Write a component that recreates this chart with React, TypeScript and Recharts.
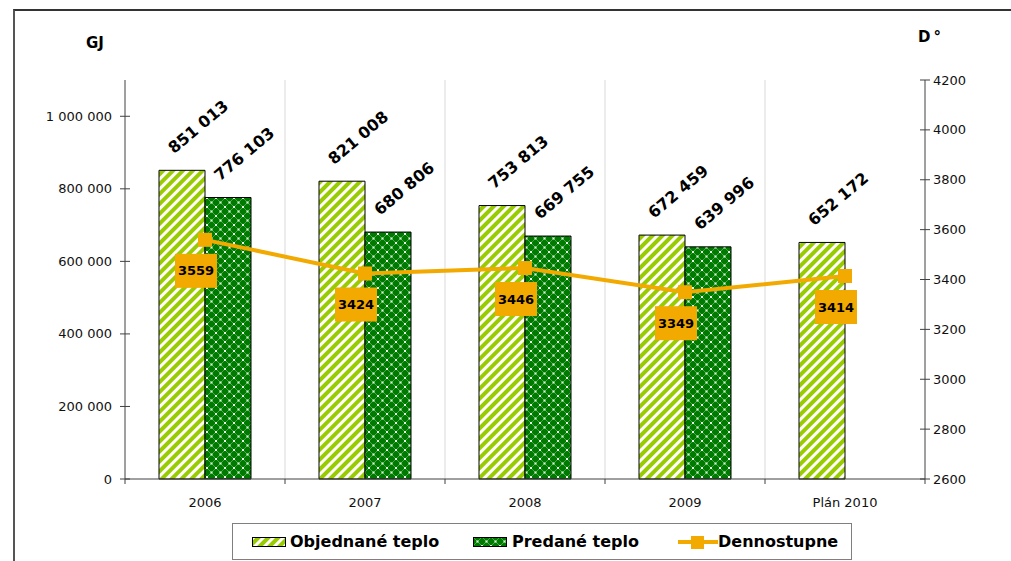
import React from 'react';
import {
  ComposedChart,
  Bar,
  Line,
  XAxis,
  YAxis,
  CartesianGrid,
  LabelList,
} from 'recharts';

const categories = ['2006', '2007', '2008', '2009', 'Plán 2010'];
const objednaneTeplo = [851013, 821008, 753813, 672459, 652172];
const predaneTeplo: (number | null)[] = [776103, 680806, 669755, 639996, null];
const dennostupne = [3559, 3424, 3446, 3349, 3414];
const leftTicks = [0, 200000, 400000, 600000, 800000, 1000000];
const rightTicks = [2600, 2800, 3000, 3200, 3400, 3600, 3800, 4000, 4200];

const data = categories.map((c, i) => ({
  name: c,
  objednane: objednaneTeplo[i],
  predane: predaneTeplo[i],
  dennostupne: dennostupne[i],
}));

const CHART_W = 1011;
const CHART_H = 561;
const LEFT_W = 125;
const RIGHT_W = 86;
const XAXIS_H = 82;
const TOP = 80;
const BAND = (CHART_W - LEFT_W - RIGHT_W) / categories.length;

const FONT = '"DejaVu Sans", Verdana, sans-serif';
const AXIS = '#404040';
const ORANGE = '#F2A900';
const LIME = '#99CC00';
const DKGREEN = '#007A00';

const fmt = (n: number) => String(n).replace(/\B(?=(\d{3})+(?!\d))/g, ' ');

const LeftTick = (props: any) => {
  const { x, y, payload } = props;
  const ax = x + 5 + 8;
  return (
    <g>
      <line x1={ax - 5} x2={ax + 5} y1={y} y2={y} stroke={AXIS} strokeWidth={1} />
      <text x={x} y={y} textAnchor="end" dominantBaseline="central" fontFamily={FONT} fontSize={13} fill="#111">
        {fmt(payload.value)}
      </text>
    </g>
  );
};

const RightTick = (props: any) => {
  const { x, y, payload } = props;
  const ax = x - 5 - 3;
  return (
    <g>
      <line x1={ax - 5} x2={ax + 5} y1={y} y2={y} stroke={AXIS} strokeWidth={1} />
      <text x={x} y={y} textAnchor="start" dominantBaseline="central" fontFamily={FONT} fontSize={13} fill="#111">
        {payload.value}
      </text>
    </g>
  );
};

const BottomTick = (props: any) => {
  const { x, y, payload, index } = props;
  const ay = y - 5 - 12;
  return (
    <g>
      <line x1={x - BAND / 2} x2={x - BAND / 2} y1={ay} y2={ay + 5} stroke={AXIS} strokeWidth={1} />
      {index === categories.length - 1 && (
        <line x1={x + BAND / 2} x2={x + BAND / 2} y1={ay} y2={ay + 5} stroke={AXIS} strokeWidth={1} />
      )}
      <text x={x} y={y + 11} textAnchor="middle" fontFamily={FONT} fontSize={13} fill="#111">
        {payload.value}
      </text>
    </g>
  );
};

const BarValueLabel = (props: any) => {
  const { x, y, value } = props;
  if (value === null || value === undefined) return null;
  const tx = Number(x) + 15;
  const ty = Number(y) - 16;
  return (
    <text
      x={tx}
      y={ty}
      transform={`rotate(-40 ${tx} ${ty})`}
      textAnchor="start"
      fontFamily={FONT}
      fontWeight="bold"
      fontSize={16}
      fill="#000"
    >
      {fmt(Number(value))}
    </text>
  );
};

const SquareDot = (props: any) => {
  const { cx, cy } = props;
  if (cx == null || cy == null) return null;
  return <rect x={cx - 7} y={cy - 7} width={14} height={14} fill={ORANGE} />;
};

const LineValueLabel = (props: any) => {
  const { x, y, value } = props;
  const cx = Number(x) - 9;
  const cy = Number(y) + 31;
  return (
    <g>
      <rect x={cx - 21} y={cy - 17} width={42} height={34} fill={ORANGE} />
      <text x={cx} y={cy} textAnchor="middle" dominantBaseline="central" fontFamily={FONT} fontWeight="bold" fontSize={13} fill="#000">
        {value}
      </text>
    </g>
  );
};

const Patterns = ({ prefix }: { prefix: string }) => (
  <defs>
    <pattern id={`${prefix}Obj`} width={7} height={7} patternUnits="userSpaceOnUse" patternTransform="rotate(45)">
      <rect x={0} y={0} width={7} height={7} fill={LIME} />
      <rect x={0} y={0} width={3} height={7} fill="#ffffff" />
    </pattern>
    <pattern id={`${prefix}Pre`} width={9} height={9} patternUnits="userSpaceOnUse">
      <rect x={0} y={0} width={9} height={9} fill={DKGREEN} />
      <line x1={0} y1={0} x2={9} y2={9} stroke="#4fae4f" strokeWidth={0.9} />
      <line x1={9} y1={0} x2={0} y2={9} stroke="#4fae4f" strokeWidth={0.9} />
      <rect x={3.5} y={3.5} width={2} height={2} fill="#e8ffe8" />
      <rect x={0} y={0} width={1} height={1} fill="#e8ffe8" />
      <rect x={8} y={8} width={1} height={1} fill="#e8ffe8" />
      <rect x={8} y={0} width={1} height={1} fill="#e8ffe8" />
      <rect x={0} y={8} width={1} height={1} fill="#e8ffe8" />
    </pattern>
  </defs>
);

const legendText: React.CSSProperties = {
  position: 'absolute',
  fontFamily: FONT,
  fontWeight: 'bold',
  fontSize: 16,
  color: '#000',
  top: 8,
  lineHeight: '19px',
  whiteSpace: 'nowrap',
};

export default function App() {
  return (
    <div style={{ position: 'absolute', left: 0, top: 0, width: CHART_W, height: CHART_H, background: '#fff', overflow: 'hidden' }}>
      <div
        style={{
          position: 'absolute',
          left: 13,
          top: 9,
          width: CHART_W,
          height: CHART_H,
          borderLeft: '2px solid #555',
          borderTop: '2px solid #333',
        }}
      />
      <div style={{ position: 'absolute', left: 0, top: 0 }}>
        <ComposedChart
          width={CHART_W}
          height={CHART_H}
          data={data}
          margin={{ top: TOP, right: 0, bottom: 0, left: 0 }}
          barGap={0}
        >
          <Patterns prefix="c" />
          <CartesianGrid
            horizontal={false}
            vertical={true}
            stroke="#d9d9d9"
            strokeWidth={1}
            verticalCoordinatesGenerator={({ offset }: any) =>
              categories.slice(1).map((_, i) => offset.left + (offset.width * (i + 1)) / categories.length)
            }
          />
          <XAxis
            dataKey="name"
            height={XAXIS_H}
            axisLine={{ stroke: AXIS, strokeWidth: 1 }}
            tickLine={false}
            tickSize={5}
            tickMargin={12}
            tick={<BottomTick />}
            interval={0}
          />
          <YAxis
            yAxisId="left"
            orientation="left"
            width={LEFT_W}
            domain={[0, 1100000]}
            ticks={leftTicks}
            axisLine={{ stroke: AXIS, strokeWidth: 1 }}
            tickLine={false}
            tickSize={5}
            tickMargin={8}
            tick={<LeftTick />}
            interval={0}
          />
          <YAxis
            yAxisId="right"
            orientation="right"
            width={RIGHT_W}
            domain={[2600, 4200]}
            ticks={rightTicks}
            axisLine={{ stroke: AXIS, strokeWidth: 1 }}
            tickLine={false}
            tickSize={5}
            tickMargin={3}
            tick={<RightTick />}
            interval={0}
          />
          <Bar
            yAxisId="left"
            dataKey="objednane"
            name="Objednané teplo"
            barSize={46}
            fill="url(#cObj)"
            stroke="#000"
            strokeWidth={1}
            isAnimationActive={false}
          >
            <LabelList dataKey="objednane" content={<BarValueLabel />} />
          </Bar>
          <Bar
            yAxisId="left"
            dataKey="predane"
            name="Predané teplo"
            barSize={46}
            fill="url(#cPre)"
            stroke="#000"
            strokeWidth={1}
            isAnimationActive={false}
          >
            <LabelList dataKey="predane" content={<BarValueLabel />} />
          </Bar>
          <Line
            yAxisId="right"
            type="linear"
            dataKey="dennostupne"
            name="Dennostupne"
            stroke={ORANGE}
            strokeWidth={4}
            dot={<SquareDot />}
            activeDot={false}
            isAnimationActive={false}
          >
            <LabelList dataKey="dennostupne" content={<LineValueLabel />} />
          </Line>
        </ComposedChart>
      </div>

      <div style={{ position: 'absolute', left: 86, top: 34, fontFamily: FONT, fontWeight: 'bold', fontSize: 15, color: '#000' }}>
        GJ
      </div>
      <div style={{ position: 'absolute', left: 918, top: 28, fontFamily: FONT, fontWeight: 'bold', fontSize: 15, color: '#000', letterSpacing: 3 }}>
        D°
      </div>

      <div
        style={{
          position: 'absolute',
          left: 232,
          top: 523,
          width: 618,
          height: 35,
          border: '1px solid #7f7f7f',
          background: '#fff',
        }}
      >
        <svg style={{ position: 'absolute', left: 19, top: 13 }} width={35} height={11}>
          <Patterns prefix="l" />
          <rect x={0.5} y={0.5} width={33} height={9} fill="url(#lObj)" stroke="#000" strokeWidth={1} />
        </svg>
        <span style={{ ...legendText, left: 57 }}>Objednané teplo</span>
        <svg style={{ position: 'absolute', left: 240, top: 13 }} width={35} height={11}>
          <Patterns prefix="m" />
          <rect x={0.5} y={0.5} width={33} height={9} fill="url(#mPre)" stroke="#000" strokeWidth={1} />
        </svg>
        <span style={{ ...legendText, left: 279 }}>Predané teplo</span>
        <svg style={{ position: 'absolute', left: 445, top: 10 }} width={40} height={16}>
          <line x1={0} x2={40} y1={8} y2={8} stroke={ORANGE} strokeWidth={4} />
          <rect x={13} y={2} width={13} height={13} fill={ORANGE} />
        </svg>
        <span style={{ ...legendText, left: 485 }}>Dennostupne</span>
      </div>
    </div>
  );
}
